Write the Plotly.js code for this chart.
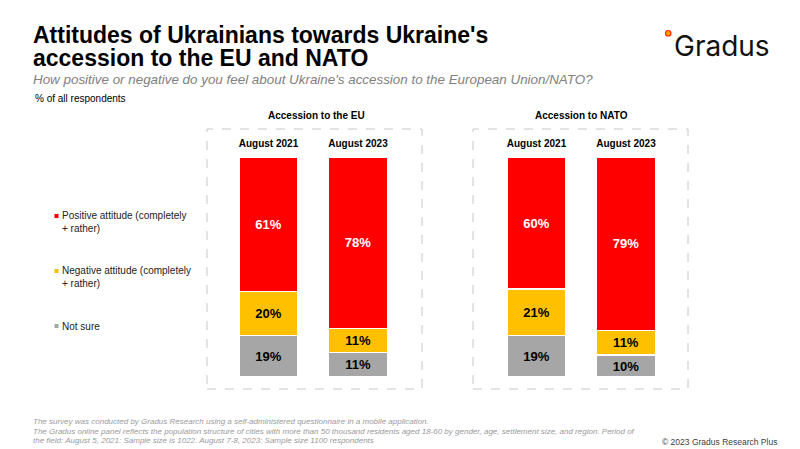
<!DOCTYPE html>
<html>
<head>
<meta charset="utf-8">
<script src="https://cdn.plot.ly/plotly-3.0.1.min.js"></script>
<style>
  html, body { margin: 0; padding: 0; background: #fff; }
  #chart { width: 800px; height: 449px; }
</style>
</head>
<body>
<div id="chart"></div>
<script>
// Data (% of all respondents)
const periods = ["August 2021", "August 2023"];
const euPositive = [61, 78];
const euNegative = [20, 11];
const euNotSure = [19, 11];
const natoPositive = [60, 79];
const natoNegative = [21, 11];
const natoNotSure = [19, 10];

const seriesNames = ["Not sure", "Negative attitude (completely + rather)", "Positive attitude (completely + rather)"];
const legendLabels = ["Positive attitude (completely<br>+ rather)", "Negative attitude (completely<br>+ rather)", "Not sure"];

const RED = "#FF0000", YELLOW = "#FFC000", GREY = "#A6A6A6";
const W = 800, H = 449;
const FONT = "Liberation Sans, Arial, sans-serif";

// pixel -> paper helpers
const px = x => x / W;
const py = y => 1 - y / H;

function seg(name, vals, color, txtColor, xa) {
  return {
    type: "bar", name: name, x: periods, y: vals, xaxis: xa, yaxis: xa === "x" ? "y" : "y2",
    marker: { color: color, line: { color: "#fff", width: 1.2 } },
    text: vals.map(v => v + "%"), textposition: "inside", insidetextanchor: "middle",
    textangle: 0, constraintext: "none",
    textfont: { family: FONT, size: 13, color: txtColor, weight: "bold" },
    hoverinfo: "name+y", showlegend: false
  };
}

const traces = [
  seg(seriesNames[0], euNotSure, GREY, "#000", "x"),
  seg(seriesNames[1], euNegative, YELLOW, "#000", "x"),
  seg(seriesNames[2], euPositive, RED, "#fff", "x"),
  seg(seriesNames[0], natoNotSure, GREY, "#000", "x2"),
  seg(seriesNames[1], natoNegative, YELLOW, "#000", "x2"),
  seg(seriesNames[2], natoPositive, RED, "#fff", "x2")
];

const xBase = {
  type: "category", side: "top", showgrid: false, zeroline: false, showline: false,
  ticks: "", ticklabelstandoff: 7, fixedrange: true,
  tickfont: { family: FONT, size: 10, color: "#000", weight: "bold" }
};
const yBase = { range: [0, 100], visible: false, fixedrange: true };

const ann = (x, y, text, o) => Object.assign({
  xref: "paper", yref: "paper", x: px(x), y: py(y), text: text, showarrow: false,
  xanchor: "left", yanchor: "middle", align: "left",
  font: { family: FONT, size: 10, color: "#000" }
}, o || {});

const legendY = [222, 277, 326];
const legendColors = [RED, YELLOW, GREY];

const annotations = [
  ann(31, 35, "Attitudes of Ukrainians towards Ukraine's", { font: { family: FONT, size: 23, color: "#000", weight: "bold" } }),
  ann(31, 58, "accession to the EU and NATO", { font: { family: FONT, size: 23, color: "#000", weight: "bold" } }),
  ann(31, 80, "<i>How positive or negative do you feel about Ukraine's accession to the European Union/NATO?</i>",
      { font: { family: FONT, size: 13.4, color: "#808080" } }),
  ann(33, 98, "% of all respondents", { font: { family: FONT, size: 10, color: "#000" } }),
  ann(316, 115, "<b>Accession to the EU</b>", { xanchor: "center" }),
  ann(581, 115, "<b>Accession to NATO</b>", { xanchor: "center" }),
  ann(31, 421, "<i>The survey was conducted by Gradus Research using a self-administered questionnaire in a mobile application.</i>",
      { font: { family: FONT, size: 8, color: "#9A9A9A" } }),
  ann(31, 431, "<i>The Gradus online panel reflects the population structure of cities with more than 50 thousand residents aged 18-60 by gender, age, settlement size, and region. Period of</i>",
      { font: { family: FONT, size: 8, color: "#9A9A9A" } }),
  ann(31, 440, "<i>the field: August 5, 2021: Sample size is 1022. August 7-8, 2023: Sample size 1100 respondents</i>",
      { font: { family: FONT, size: 8, color: "#9A9A9A" } }),
  ann(779, 442, "© 2023 Gradus Research Plus", { xanchor: "right", font: { family: FONT, size: 8.5, color: "#404040" } }),
  ann(672, 46, "Gradus", { font: { family: "Inter, Roboto, sans-serif", size: 28, color: "#111" } })
];
legendLabels.forEach((t, i) => annotations.push(ann(60, legendY[i], t, { font: { family: FONT, size: 10, color: "#222" } })));

const shapes = [
  { type: "rect", xref: "paper", yref: "paper", x0: px(207), x1: px(422), y0: py(389), y1: py(129),
    line: { color: "#C8C8C8", width: 1, dash: "dash" } },
  { type: "rect", xref: "paper", yref: "paper", x0: px(473), x1: px(688), y0: py(389), y1: py(129),
    line: { color: "#C8C8C8", width: 1, dash: "dash" } },
  // logo dot
  { type: "circle", xref: "paper", yref: "paper", x0: px(665.5), x1: px(671), y0: py(36), y1: py(30.5),
    fillcolor: "#FFA000", line: { color: "#FF2A00", width: 1.2 } }
];
// legend swatches
legendColors.forEach((c, i) => {
  const yc = i === 2 ? legendY[i] : legendY[i] - 6;
  shapes.push({ type: "rect", xref: "paper", yref: "paper", x0: px(54.5), x1: px(58.5), y0: py(yc + 2), y1: py(yc - 2),
    fillcolor: c, line: { width: 0 } });
});

const layout = {
  width: W, height: H, margin: { l: 0, r: 0, t: 0, b: 0 },
  paper_bgcolor: "#fff", plot_bgcolor: "#fff",
  barmode: "stack", bargap: 0.34, showlegend: false,
  font: { family: FONT },
  xaxis: Object.assign({}, xBase, { domain: [px(223.75), px(402.75)], anchor: "y" }),
  xaxis2: Object.assign({}, xBase, { domain: [px(491.75), px(670.75)], anchor: "y2" }),
  yaxis: Object.assign({}, yBase, { domain: [py(377), py(157)], anchor: "x" }),
  yaxis2: Object.assign({}, yBase, { domain: [py(377), py(157)], anchor: "x2" }),
  annotations: annotations,
  shapes: shapes
};

Plotly.newPlot("chart", traces, layout, { displayModeBar: false, staticPlot: true });
</script>
</body>
</html>
